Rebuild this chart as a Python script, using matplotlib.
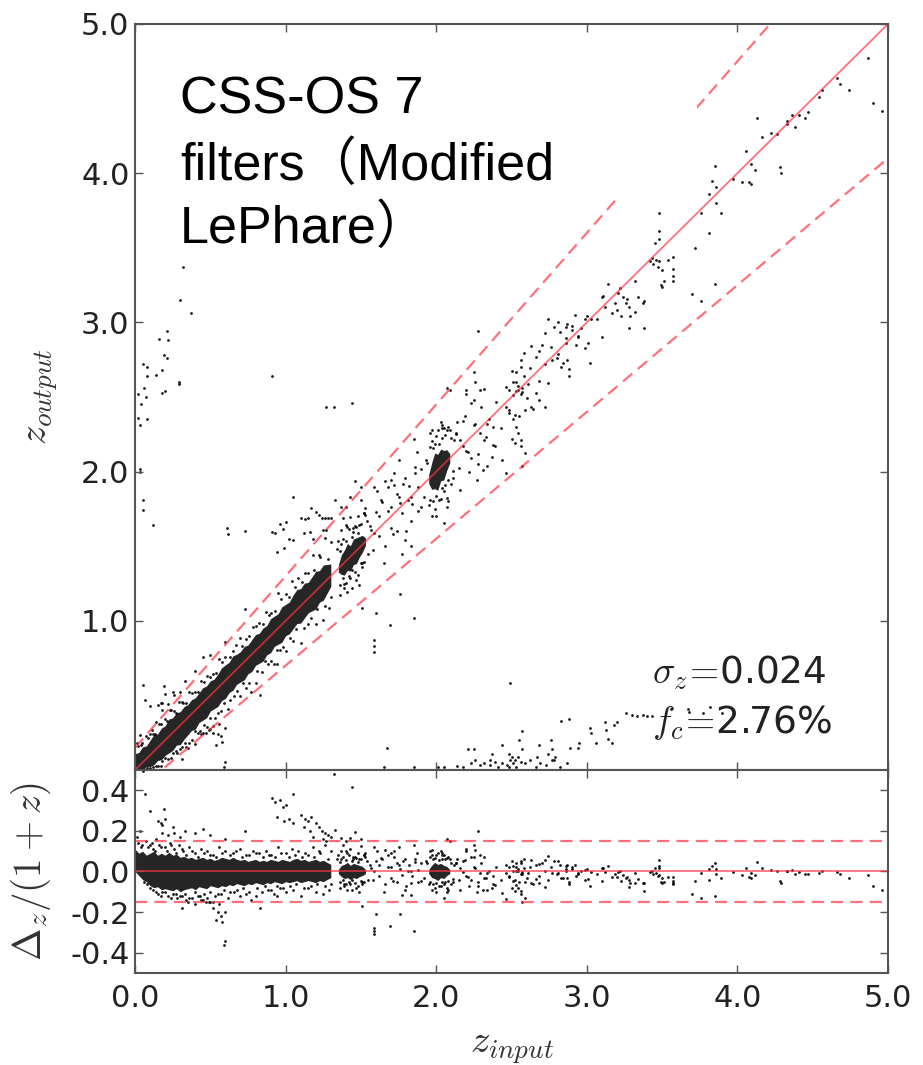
import numpy as np
import matplotlib.pyplot as plt
from matplotlib.patches import Rectangle

plt.rcParams['mathtext.fontset'] = 'cm'

# dense core of the relation (solid black), as residual envelopes dz/(1+z)
core_z = [0.000, 0.025, 0.050, 0.075, 0.100, 0.125, 0.150, 0.175, 0.200, 0.225, 0.250, 0.275, 0.300,
          0.325, 0.350, 0.375, 0.400, 0.425, 0.450, 0.475, 0.500, 0.525, 0.550, 0.575, 0.600, 0.625,
          0.650, 0.675, 0.700, 0.725, 0.750, 0.775, 0.800, 0.825, 0.850, 0.875, 0.900, 0.925, 0.950,
          0.975, 1.000, 1.025, 1.050, 1.075, 1.100, 1.125, 1.150, 1.175, 1.200, 1.225, 1.250, 1.275, 1.300]
core_hi = [0.11, 0.09, 0.10, 0.08, 0.09, 0.10, 0.08, 0.09, 0.08, 0.095, 0.08, 0.085, 0.07,
           0.075, 0.065, 0.07, 0.06, 0.065, 0.07, 0.06, 0.065, 0.055, 0.06, 0.07, 0.065, 0.06,
           0.07, 0.06, 0.055, 0.06, 0.05, 0.055, 0.06, 0.05, 0.055, 0.05, 0.06, 0.055, 0.05,
           0.06, 0.055, 0.05, 0.06, 0.065, 0.055, 0.06, 0.05, 0.055, 0.06, 0.05, 0.055, 0.045, 0.035]
core_lo = [0.0, -0.02, -0.04, -0.05, -0.07, -0.08, -0.075, -0.09, -0.085, -0.09, -0.095, -0.085, -0.10,
           -0.09, -0.085, -0.08, -0.09, -0.075, -0.08, -0.085, -0.07, -0.075, -0.08, -0.07, -0.075, -0.065,
           -0.07, -0.06, -0.065, -0.07, -0.06, -0.065, -0.055, -0.06, -0.065, -0.055, -0.06, -0.05, -0.055,
           -0.06, -0.05, -0.055, -0.05, -0.045, -0.055, -0.05, -0.045, -0.05, -0.055, -0.045, -0.05, -0.04, -0.03]
blob1_z = [1.35, 1.37, 1.39, 1.41, 1.43, 1.45, 1.47, 1.49, 1.51, 1.53]
blob1_hi = [0.01, 0.03, 0.035, 0.045, 0.03, 0.04, 0.035, 0.03, 0.025, 0.01]
blob1_lo = [-0.01, -0.025, -0.035, -0.03, -0.04, -0.03, -0.035, -0.025, -0.02, -0.01]
blob2_z = [1.95, 1.97, 1.99, 2.01, 2.03, 2.05, 2.07, 2.09]
blob2_hi = [0.01, 0.03, 0.045, 0.035, 0.04, 0.03, 0.025, 0.01]
blob2_lo = [-0.01, -0.03, -0.035, -0.045, -0.03, -0.035, -0.02, -0.01]

# galaxies (z_input, z_output)
za = [0.32, 0.30, 0.37, 0.21, 0.16, 0.22, 0.19, 0.21, 0.05, 0.08, 0.08, 0.14, 0.18, 0.29, 0.29, 0.06,
      0.07, 0.18, 0.20, 0.04, 0.02, 0.02, 0.08, 0.03, 0.91, 1.27, 1.32, 1.44, 0.03, 0.03, 0.05, 0.05,
      0.12, 0.61, 0.62, 0.73, 0.05,
      1.59, 1.59, 1.59, 1.69, 1.85, 1.67, 1.65, 1.85, 2.01, 2.05, 2.49,
      2.14, 2.18, 2.23, 2.26, 2.29, 2.32, 2.36, 2.39, 2.41, 2.44, 2.47, 2.49, 2.51, 2.53, 2.56, 2.59,
      2.62, 2.66, 2.69, 2.73, 2.77, 2.82, 2.87, 2.50, 2.52, 2.48, 2.54,
      2.83, 2.88, 3.02, 3.03, 3.06, 3.12, 3.13, 3.14, 3.17, 3.18, 3.20, 3.26, 3.30, 3.33, 3.37, 3.40,
      3.43, 3.67, 3.68, 3.77, 3.82, 3.90, 2.57, 2.55, 2.57, 2.44, 2.48, 2.76, 2.77, 2.79, 2.74, 2.78,
      2.68, 2.67, 2.89, 2.94, 2.95, 2.21, 2.25, 2.37, 2.36,
      1.59, 1.63, 1.68, 1.70, 1.74, 1.77, 1.81, 1.83, 1.88, 1.90, 1.86, 1.79, 1.72, 1.66, 1.62, 1.57,
      1.52, 1.50, 1.43, 1.37, 1.33, 1.46, 1.71, 1.77, 1.83,
      1.97, 2.04, 2.07, 2.13, 2.16, 2.18, 2.21, 2.23, 2.28, 2.31, 2.34, 2.37, 2.39, 2.32, 2.29, 2.34,
      2.38, 2.26, 2.19, 2.14,
      2.28, 2.07, 2.09, 2.25, 2.26, 2.29, 2.20, 2.25, 2.23,
      2.63, 2.56, 2.58, 2.53, 2.51, 2.48, 2.61, 2.66, 2.68, 2.72, 2.63, 2.59, 2.74, 2.81, 2.86, 2.90,
      2.92, 2.99, 2.94, 2.86, 2.81, 2.77, 2.83, 2.88, 2.87, 3.01, 3.02, 2.72, 2.68, 2.54, 2.53, 2.57,
      2.56, 2.46, 2.48, 2.51, 2.53, 2.54, 2.56, 2.52, 2.44, 2.46,
      3.14, 3.11, 3.22, 3.24, 3.26, 3.27, 3.19, 3.20, 3.17, 3.29, 3.32, 3.34, 3.37, 3.38, 3.10, 3.07,
      3.03, 3.00, 2.87, 2.94, 3.21, 3.28, 3.23, 3.32, 3.38, 3.28, 3.10, 3.12,
      3.43, 3.46, 3.48, 3.42, 3.44, 3.47, 3.50, 3.51, 3.54, 3.57, 3.57, 3.57, 3.57, 3.49, 3.50, 3.48,
      3.48, 3.48, 3.45,
      4.87, 4.90, 4.96, 4.74, 4.68, 4.66, 4.56, 4.54, 4.47, 4.45, 4.41, 4.38, 4.36, 4.33, 4.33, 4.13,
      4.16, 4.22, 4.26, 4.06, 4.09, 4.12, 4.28, 4.29, 4.08, 4.09, 4.03, 3.97, 3.85, 3.83, 3.86, 3.81,
      3.86, 3.89, 3.76, 3.72, 3.81, 3.85, 3.70, 3.76]
zo = [3.37, 3.15, 3.06, 2.94, 2.89, 2.88, 2.78, 2.76, 2.72, 2.70, 2.64, 2.65, 2.68, 2.60, 2.59, 2.56,
      2.50, 2.53, 2.54, 2.45, 2.52, 2.36, 2.35, 2.31, 2.64, 2.43, 2.43, 2.46, 2.02, 2.00, 1.81, 1.74,
      1.64, 1.62, 1.58, 1.60, 0.57,
      0.79, 0.83, 0.87, 0.97, 1.02, 0.15, 0.02, 0.02, 0.02, 0.02, 0.58,
      0.03, 0.02, 0.045, 0.067, 0.033, 0.045, 0.033, 0.056, 0.022, 0.045, 0.033, 0.067, 0.045, 0.022, 0.056, 0.045,
      0.067, 0.022, 0.045, 0.033, 0.067, 0.022, 0.045, 0.089, 0.067, 0.022, 0.089,
      0.33, 0.34, 0.28, 0.25, 0.18, 0.32, 0.27, 0.21, 0.18, 0.30, 0.32, 0.38, 0.37, 0.36, 0.37, 0.36,
      0.36, 0.41, 0.39, 0.38, 0.42, 0.38, 0.26, 0.20, 0.14, 0.17, 0.11, 0.20, 0.14, 0.09, 0.11, 0.07,
      0.17, 0.09, 0.15, 0.15, 0.18, 0.14, 0.14, 0.11, 0.07,
      1.90, 1.81, 1.90, 1.76, 1.85, 1.72, 1.81, 1.67, 1.90, 1.76, 1.99, 1.96, 1.99, 1.94, 1.70, 1.61,
      1.72, 1.81, 1.83, 1.76, 1.81, 1.94, 1.58, 1.45, 1.50,
      2.28, 2.29, 2.28, 2.26, 2.21, 2.17, 2.13, 2.09, 2.05, 2.01, 2.04, 2.10, 2.17, 2.21, 2.26, 2.32,
      2.30, 2.32, 2.37, 2.33,
      2.94, 2.56, 2.55, 2.67, 2.60, 2.55, 2.55, 2.48, 2.46,
      2.84, 2.75, 2.64, 2.67, 2.60, 2.55, 2.59, 2.53, 2.48, 2.43, 2.43, 2.41, 3.02, 3.00, 2.97, 2.95,
      3.05, 3.02, 2.90, 2.86, 2.79, 2.75, 2.70, 2.64, 2.75, 2.86, 2.73, 2.93, 2.81, 2.55, 2.54, 2.56,
      2.52, 2.43, 2.39, 2.35, 2.30, 2.26, 2.21, 2.19, 2.08, 1.99,
      3.26, 3.18, 3.23, 3.17, 3.13, 3.16, 3.13, 3.08, 3.06, 3.04, 3.28, 3.17, 3.13, 2.96, 2.90, 3.02,
      3.02, 3.04, 2.99, 2.91, 3.20, 3.10, 3.04, 3.07, 3.14, 2.96, 3.17, 3.10,
      3.43, 3.42, 3.41, 3.41, 3.39, 3.37, 3.35, 3.28, 3.42, 3.44, 3.36, 3.31, 3.28, 3.25, 3.24, 3.73,
      3.61, 3.56, 3.53,
      4.77, 4.47, 4.42, 4.56, 4.60, 4.64, 4.56, 4.51, 4.41, 4.37, 4.39, 4.31, 4.39, 4.35, 4.33, 4.37,
      4.24, 4.27, 4.26, 4.15, 4.06, 4.02, 4.04, 4.00, 3.94, 3.93, 3.94, 3.96, 4.05, 3.95, 3.91, 3.86,
      3.80, 3.73, 3.73, 3.50, 3.60, 3.26, 3.19, 3.14]

# galaxies (z_input, dz/(1+z))
zb = [0.065, 0.10, 0.195, 0.15, 0.17, 0.20, 0.18, 0.03, 0.18, 0.22, 0.26, 0.30, 0.60, 0.73,
      0.91, 0.93, 0.96, 1.00, 1.05, 0.98, 0.94, 0.99, 1.02, 1.05, 1.10, 1.13, 1.15, 1.17, 1.20,
      1.22, 1.12, 1.16, 1.24, 1.26, 1.28, 1.18, 1.25, 1.27, 1.30, 1.40, 1.50, 1.38, 1.75, 1.85, 2.20,
      0.25, 0.33, 0.40, 0.45, 0.50,
      0.52, 0.55, 0.57, 0.58, 0.60, 0.54, 0.60, 0.59, 0.31, 0.49, 0.47, 0.83, 0.94, 1.51, 1.60, 1.76,
      2.05, 2.57, 0.35, 0.40, 0.44, 0.52, 0.56,
      0.02, 0.04, 0.07, 0.10, 0.12, 0.14, 0.16, 0.20, 0.23, 0.26, 0.29, 0.32, 0.36, 0.40, 0.44, 0.48,
      0.52, 0.56, 0.60, 0.65, 0.70, 0.74, 0.78, 0.82, 0.87, 0.90, 0.95, 1.00, 1.04, 1.08, 1.13, 1.18,
      1.22, 1.26, 1.30,
      0.01, 0.045, 0.085, 0.11, 0.13, 0.17, 0.21, 0.24, 0.27, 0.31, 0.34, 0.38, 0.42, 0.46, 0.50, 0.54,
      0.58, 0.63, 0.67, 0.71, 0.76, 0.80, 0.85, 0.89, 0.93, 0.97, 1.02, 1.06, 1.11, 1.15, 1.19, 1.23, 1.28,
      0.08, 0.12, 0.15, 0.18, 0.22, 0.25, 0.28, 0.31, 0.34, 0.38, 0.42, 0.45, 0.48, 0.50, 0.53, 0.57,
      0.62, 0.66, 0.70, 0.74, 0.77, 0.80, 0.84, 0.88, 0.92, 0.96, 1.00, 1.05, 1.10, 1.15, 1.20, 1.25,
      1.29,
      0.06, 0.10, 0.14, 0.17, 0.20, 0.24, 0.27, 0.30, 0.33, 0.36, 0.40, 0.43, 0.46, 0.50, 0.55, 0.59,
      0.63, 0.68, 0.72, 0.76, 0.81, 0.86, 0.90, 0.94, 0.98, 1.03, 1.07, 1.12, 1.17, 1.21, 1.26, 1.30,
      1.34, 1.36, 1.38, 1.40, 1.42, 1.44, 1.46, 1.48, 1.50, 1.52, 1.54, 1.37, 1.43, 1.49, 1.41, 1.53,
      1.35, 1.37, 1.39, 1.41, 1.43, 1.45, 1.47, 1.49, 1.51, 1.53, 1.55, 1.36, 1.40, 1.44, 1.48, 1.52,
      1.36, 1.38, 1.40, 1.42, 1.44, 1.46, 1.48, 1.50, 1.39, 1.45, 1.47, 1.51,
      1.56, 1.58, 1.60, 1.62, 1.64, 1.66, 1.68, 1.70, 1.72, 1.74, 1.76, 1.78, 1.80, 1.82, 1.84, 1.86,
      1.88, 1.90, 1.92, 1.61, 1.70, 1.79, 1.87, 1.65, 1.59, 1.75, 1.83,
      1.96, 1.98, 2.00, 2.02, 2.04, 2.06, 2.08, 2.10, 1.97, 2.03, 2.07,
      1.93, 1.95, 1.97, 1.99, 2.01, 2.03, 2.05, 2.07, 2.09, 2.11, 2.13, 1.96, 2.00, 2.04, 2.08,
      1.94, 1.96, 1.98, 2.00, 2.02, 2.04, 2.06, 2.08, 2.10, 1.99, 2.05, 2.11,
      2.12, 2.15, 2.18, 2.20, 2.22, 2.25, 2.28, 2.30, 2.33, 2.35, 2.38, 2.40, 2.43, 2.16, 2.27, 2.32,
      2.46, 2.48, 2.50, 2.51, 2.52, 2.53, 2.54, 2.55, 2.56, 2.57, 2.58, 2.60, 2.62, 2.64, 2.50, 2.56,
      2.59,
      2.66, 2.68, 2.70, 2.72, 2.74, 2.76, 2.78, 2.80, 2.82, 2.84, 2.86, 2.88, 2.90, 2.93, 2.96, 2.99]
dzb = [0.38, 0.30, 0.31, 0.25, 0.24, 0.26, 0.23, 0.20, 0.19, 0.18, 0.19, 0.17, 0.16, 0.20,
       0.36, 0.34, 0.35, 0.33, 0.38, 0.32, 0.27, 0.25, 0.26, 0.24, 0.28, 0.26, 0.25, 0.27, 0.24,
       0.22, 0.22, 0.20, 0.20, 0.19, 0.18, 0.17, 0.16, 0.15, 0.17, 0.15, 0.16, 0.13, 0.12, 0.13, 0.10,
       0.22, 0.20, 0.19, 0.21, 0.18,
       -0.18, -0.20, -0.22, -0.25, -0.20, -0.24, -0.34, -0.36, -0.18, -0.15, -0.15, -0.18, -0.12, -0.17, -0.21, -0.21,
       -0.13, -0.15, -0.15, -0.16, -0.14, -0.15, -0.16,
       0.14, 0.12, 0.15, 0.13, 0.11, 0.16, 0.13, 0.12, 0.14, 0.11, 0.13, 0.10, 0.12, 0.09, 0.11, 0.10,
       0.08, 0.12, 0.10, 0.09, 0.11, 0.08, 0.10, 0.09, 0.10, 0.08, 0.12, 0.09, 0.11, 0.10, 0.09, 0.12,
       0.10, 0.13, 0.10,
       0.17, 0.13, 0.12, 0.14, 0.10, 0.12, 0.10, 0.13, 0.09, 0.11, 0.08, 0.10, 0.07, 0.09, 0.08, 0.07,
       0.09, 0.08, 0.10, 0.07, 0.08, 0.09, 0.07, 0.08, 0.07, 0.09, 0.07, 0.08, 0.07, 0.08, 0.07, 0.09, 0.06,
       -0.06, -0.09, -0.11, -0.10, -0.12, -0.11, -0.13, -0.12, -0.14, -0.13, -0.12, -0.14, -0.13, -0.15, -0.12, -0.11,
       -0.13, -0.10, -0.12, -0.11, -0.14, -0.12, -0.10, -0.09, -0.11, -0.08, -0.10, -0.09, -0.12, -0.08, -0.10, -0.11,
       -0.09,
       -0.05, -0.08, -0.10, -0.12, -0.10, -0.13, -0.11, -0.12, -0.11, -0.13, -0.10, -0.12, -0.11, -0.10, -0.11, -0.09,
       -0.10, -0.09, -0.08, -0.10, -0.08, -0.07, -0.09, -0.07, -0.08, -0.07, -0.06, -0.08, -0.07, -0.06, -0.07, -0.06,
       0.06, -0.05, 0.07, -0.06, 0.08, -0.04, 0.07, -0.07, 0.06, -0.05, 0.05, 0.10, 0.11, -0.10, -0.09, 0.09,
       0.08, 0.06, -0.07, 0.09, -0.06, 0.07, -0.08, 0.06, -0.06, 0.07, -0.04, -0.08, 0.10, -0.09, 0.09, 0.08,
       0.045, -0.04, 0.055, -0.05, 0.05, -0.055, 0.045, -0.045, -0.06, 0.06, 0.065, -0.05,
       0.03, -0.04, 0.05, -0.02, 0.06, -0.06, 0.02, -0.03, 0.07, -0.05, 0.01, 0.05, -0.07, 0.03, -0.02, 0.06,
       -0.05, 0.04, -0.03, 0.10, 0.09, -0.09, 0.09, -0.10, 0.00, 0.03, 0.00,
       0.07, -0.06, 0.08, -0.07, 0.06, -0.05, 0.07, -0.06, -0.09, 0.10, -0.10,
       0.05, -0.06, 0.08, -0.08, 0.09, -0.07, 0.08, -0.08, 0.06, -0.05, 0.04, 0.10, -0.10, 0.09, -0.09,
       0.04, -0.05, 0.06, -0.055, 0.055, -0.05, 0.06, -0.045, 0.04, 0.065, -0.06, -0.035,
       0.03, -0.04, 0.05, -0.02, -0.07, 0.02, -0.05, 0.04, -0.03, 0.00, -0.06, 0.02, -0.04, -0.09, -0.10, 0.07,
       0.03, -0.02, 0.05, 0.00, -0.04, 0.02, 0.01, -0.05, 0.04, -0.01, 0.06, -0.03, 0.02, -0.06, -0.08, -0.11,
       -0.13,
       0.03, -0.02, 0.04, 0.00, -0.04, 0.02, 0.05, -0.01, 0.03, -0.03, 0.01, -0.05, 0.02, -0.02, 0.00, -0.04]

za = np.array(za); zo = np.array(zo)
zb = np.array(zb); dzb = np.array(dzb)
zob = zb + dzb * (1 + zb)
dza = (zo - za) / (1 + za)

envelopes = [(np.array(core_z), np.array(core_lo), np.array(core_hi)),
             (np.array(blob1_z), np.array(blob1_lo), np.array(blob1_hi)),
             (np.array(blob2_z), np.array(blob2_lo), np.array(blob2_hi))]

red = '#ff3344'
spine_c = '#555555'
dash = (5.5, 3.2)

fig = plt.figure(figsize=(9.23, 10.65), dpi=100)
ax1 = fig.add_axes([0.1463, 0.277, 0.8158, 0.7005])
ax2 = fig.add_axes([0.1463, 0.0864, 0.8158, 0.1906])

# upper panel
for ez, elo, ehi in envelopes:
    ax1.fill_between(ez, ez + elo * (1 + ez), ez + ehi * (1 + ez), color='k', alpha=0.85, lw=0)
ax1.scatter(za, zo, s=4, c='k', lw=0, alpha=0.9)
ax1.scatter(zb, zob, s=4, c='k', lw=0, alpha=0.9)
zl = np.array([0.0, 5.0])
ax1.plot(zl, zl, color=red, lw=1.3, alpha=0.7)
ax1.plot(zl, zl + 0.15 * (1 + zl), color=red, lw=1.6, alpha=0.7, dashes=dash)
ax1.plot(zl, zl - 0.15 * (1 + zl), color=red, lw=1.6, alpha=0.7, dashes=dash)
ax1.set_xlim(0, 5)
ax1.set_ylim(0, 5)
ax1.set_xticks([0, 1, 2, 3, 4, 5])
ax1.set_xticklabels([])
ax1.set_yticks([1, 2, 3, 4, 5])
ax1.set_yticklabels(['1.0', '2.0', '3.0', '4.0', '5.0'])
ax1.set_ylabel(r'$z_{output}$', fontsize=28, color='#333333')
ax1.yaxis.set_label_coords(-0.1, 0.5)

ax1.text(3.43, 0.58, r'$\sigma_z\!=\!$0.024', fontsize=27, va='baseline', ha='left', color='#222222')
ax1.text(3.43, 0.25, r'$f_c\!=\!$2.76%', fontsize=27, va='baseline', ha='left', color='#222222')

# lower panel
for ez, elo, ehi in envelopes:
    ax2.fill_between(ez, elo, ehi, color='k', alpha=0.85, lw=0)
ax2.scatter(za, dza, s=4, c='k', lw=0, alpha=0.9)
ax2.scatter(zb, dzb, s=4, c='k', lw=0, alpha=0.9)
ax2.axhline(0, color=red, lw=1.3, alpha=0.7)
ax2.axhline(0.15, color=red, lw=1.6, alpha=0.7, dashes=dash)
ax2.axhline(-0.15, color=red, lw=1.6, alpha=0.7, dashes=dash)
ax2.set_xlim(0, 5)
ax2.set_ylim(-0.5, 0.5)
ax2.set_xticks([0, 1, 2, 3, 4, 5])
ax2.set_xticklabels(['0.0', '1.0', '2.0', '3.0', '4.0', '5.0'])
ax2.set_yticks([-0.4, -0.2, 0.0, 0.2, 0.4])
ax2.set_yticklabels(['-0.4', '-0.2', '0.0', '0.2', '0.4'])
ax2.set_ylabel(r'$\Delta_z/(1+z)$', fontsize=28, color='#333333')
ax2.yaxis.set_label_coords(-0.109, 0.5)
ax2.set_xlabel(r'$z_{input}$', fontsize=28, color='#333333')
ax2.xaxis.set_label_coords(0.5, -0.27)

for ax in (ax1, ax2):
    for sp in ax.spines.values():
        sp.set_color(spine_c)
        sp.set_linewidth(1.5)
    ax.tick_params(direction='in', length=6, width=1, color=spine_c, top=True, right=True,
                   labelsize=22, labelcolor='#222222')
    ax.tick_params(axis='y', pad=4)
ax2.tick_params(axis='x', pad=8)

# white label box pasted over the upper-left of the panel
fig.patches.append(Rectangle((170 / 923, 1 - 200 / 1065), (697 - 170) / 923, 160 / 1065,
                             transform=fig.transFigure, facecolor='white', edgecolor='none', zorder=5))
lab_font = ['Liberation Sans', 'Noto Sans CJK SC']
for txt, yb in [('CSS-OS 7', 113), ('filters（Modified', 180), ('LePhare）', 243)]:
    fig.text(180 / 923, 1 - yb / 1065, txt, fontsize=37.5, family=lab_font, va='baseline',
             ha='left', color='black', zorder=6)

fig.savefig('out.png', dpi=100)
